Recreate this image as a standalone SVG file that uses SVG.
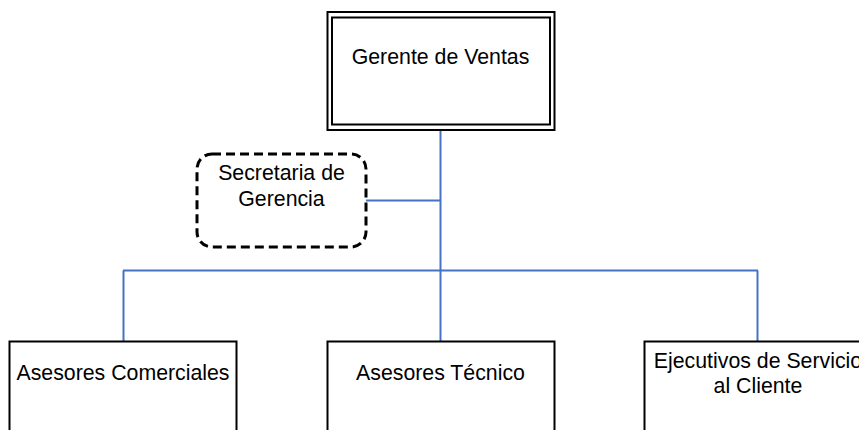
<svg xmlns="http://www.w3.org/2000/svg" width="859" height="430" viewBox="0 0 859 430">
<style>
  .box { fill: #ffffff; stroke: #000000; stroke-width: 2; }
  .dash { fill: #ffffff; stroke: #000000; stroke-width: 3; stroke-dasharray: 9 5; }
  .conn { fill: none; stroke: #4472C4; stroke-width: 2; }
  text { font-family: "Liberation Sans", Arial, sans-serif; font-size: 21.3px; fill: #000000; text-anchor: middle; }
</style>
<rect x="0" y="0" width="859" height="430" fill="#ffffff"/>
<g id="connectors">
  <line class="conn" x1="440.5" y1="130" x2="440.5" y2="341"/>
  <line class="conn" x1="366" y1="200.5" x2="440.5" y2="200.5"/>
  <line class="conn" x1="123" y1="270.5" x2="758" y2="270.5"/>
  <line class="conn" x1="123.5" y1="270.5" x2="123.5" y2="341"/>
  <line class="conn" x1="757.5" y1="270.5" x2="757.5" y2="341"/>
</g>
<g id="gerente">
  <rect class="box" x="327.5" y="12" width="227" height="118"/>
  <rect class="box" x="332" y="17.5" width="218" height="107"/>
  <text x="440.5" y="64">Gerente de Ventas</text>
</g>
<g id="secretaria">
  <rect class="dash" x="197" y="154" width="169" height="93" rx="15" ry="15"/>
  <text x="281.5" y="180">Secretaria de</text>
  <text x="281.5" y="206">Gerencia</text>
</g>
<g id="asesores-comerciales">
  <rect class="box" x="9.5" y="341.5" width="227" height="100"/>
  <text x="123" y="380">Asesores Comerciales</text>
</g>
<g id="asesores-tecnico">
  <rect class="box" x="327.5" y="341.5" width="227" height="100"/>
  <text x="440.5" y="380">Asesores Técnico</text>
</g>
<g id="ejecutivos">
  <rect class="box" x="644.5" y="341.5" width="227" height="100"/>
  <text x="758" y="368">Ejecutivos de Servicio</text>
  <text x="758" y="393">al Cliente</text>
</g>
</svg>
